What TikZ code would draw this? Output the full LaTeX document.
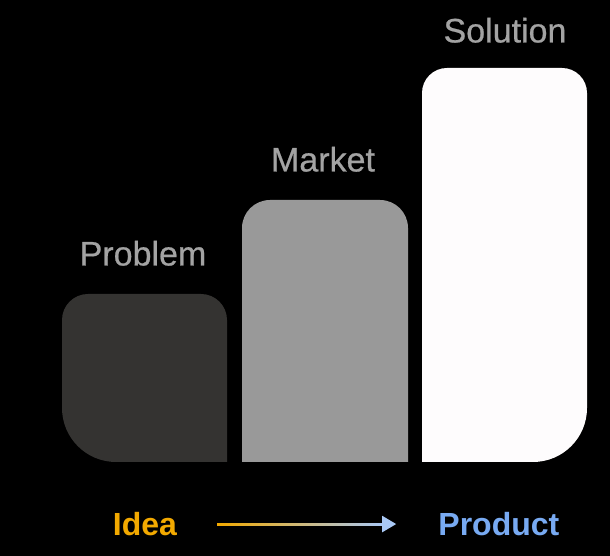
\documentclass[tikz,border=0pt]{standalone}
\usepackage{fontspec}
\setmainfont{Liberation Sans}
\newfontfamily\labelfont{Liberation Sans}[FakeBold=0.6]
\usetikzlibrary{positioning,calc,arrows.meta}

\definecolor{barDark}{HTML}{343331}
\definecolor{barMid}{HTML}{999999}
\definecolor{barLight}{HTML}{FEFCFD}
\definecolor{labelGray}{HTML}{A3A3A3}
\definecolor{ideaOrange}{HTML}{F2A900}
\definecolor{productBlue}{HTML}{78AAF2}
\definecolor{arrowMid}{HTML}{E6DCC6}
\definecolor{arrowBlue}{HTML}{A9C8F5}

\tikzset{
    label text/.style={text=labelGray, inner sep=0pt, font=\labelfont\fontsize{34}{40}\selectfont},
    end text/.style={inner sep=0pt, font=\bfseries\fontsize{32}{38}\selectfont},
}

\begin{document}
\begin{tikzpicture}[x=1pt, y=1pt]
    % Background
    \fill[black] (0,0) rectangle (610,556);

    % Bars
    \fill[barDark] (227,94) -- (227,236) arc[start angle=0, end angle=90, radius=26]
        -- (88,262) arc[start angle=90, end angle=180, radius=26]
        -- (62,148) arc[start angle=180, end angle=270, radius=54] -- cycle;
    \fill[barMid] (408,94) -- (408,328) arc[start angle=0, end angle=90, radius=28]
        -- (270,356) arc[start angle=90, end angle=180, radius=28]
        -- (242,94) -- cycle;
    \fill[barLight] (422,94) -- (422,463) arc[start angle=180, end angle=90, radius=25]
        -- (562,488) arc[start angle=90, end angle=0, radius=25]
        -- (587,148) arc[start angle=0, end angle=-90, radius=54] -- cycle;

    \coordinate (problem top) at (143,262);
    \coordinate (market top) at (323,356);
    \coordinate (solution top) at (505,488);

    % Labels
    \node[label text, above=28pt of problem top] (problem) {Problem};
    \node[label text, above=28pt of market top] (market) {Market};
    \node[label text, above=25pt of solution top] (solution) {Solution};

    % Idea to product
    \node[end text, text=ideaOrange, anchor=south] (idea) at (145,20) {Idea};
    \node[end text, text=productBlue, right=261pt of idea] (product) {Product};
    \draw[arrowBlue, line width=2pt, -{Triangle[length=14pt, width=16pt]},
        shorten <=40pt, shorten >=42pt] (idea) -- (product);
    \shade[left color=ideaOrange, middle color=arrowMid, right color=arrowBlue]
        ($(idea.east)+(40pt,-1pt)$) rectangle ($(product.west)+(-56pt,1pt)$);
\end{tikzpicture}
\end{document}
